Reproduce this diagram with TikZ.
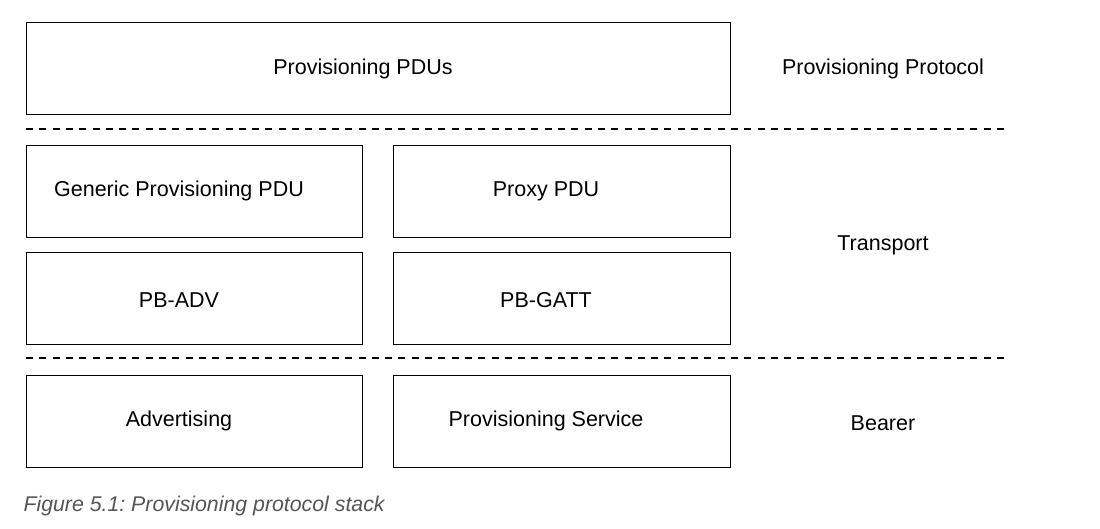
\documentclass[tikz,border=0pt]{standalone}
\usepackage{fontspec}
\setmainfont{Liberation Sans}
\frenchspacing
\begin{document}
\begin{tikzpicture}[x=1pt,y=-1pt,
  layerbox/.style={draw=black,line width=1.2pt,inner sep=0pt,anchor=north west},
  lbl/.style={font=\fontsize{21.5}{25}\selectfont,text=black},
  sep/.style={draw=black,line width=1.3pt,dash pattern=on 7pt off 6.3pt},
  captext/.style={font=\fontsize{21.3}{25}\selectfont\itshape,text=capgray,anchor=west}]
\definecolor{capgray}{HTML}{555555}
\useasboundingbox (0,0) rectangle (1100,528);
% boxes
\node[layerbox,minimum width=704pt,minimum height=92pt] (pdus) at (26,22) {};
\node[layerbox,minimum width=336pt,minimum height=92pt] (gpp) at (26,145) {};
\node[layerbox,minimum width=337pt,minimum height=92pt] (proxy) at (393,145) {};
\node[layerbox,minimum width=336pt,minimum height=92pt] (pbadv) at (26,252) {};
\node[layerbox,minimum width=337pt,minimum height=92pt] (pbgatt) at (393,252) {};
\node[layerbox,minimum width=336pt,minimum height=92pt] (adv) at (26,375) {};
\node[layerbox,minimum width=337pt,minimum height=92pt] (provsvc) at (393,375) {};
% texts
\node[lbl] (t1) at (363,69) {Provisioning PDUs};
\node[lbl] (t2) at (179,191) {Generic Provisioning PDU};
\node[lbl] (t3) at (546,191) {Proxy PDU};
\node[lbl] (t4) at (179,300) {PB-ADV};
\node[lbl] (t5) at (546,300) {PB-GATT};
\node[lbl] (t6) at (179,421) {Advertising};
\node[lbl] (t7) at (546,421) {Provisioning Service};
\node[lbl] (l1) at (883,69) {Provisioning Protocol};
\node[lbl] (l2) at (883,245) {Transport};
\node[lbl] (l3) at (883,423) {Bearer};
% separators
\coordinate (s1a) at (26,129);
\coordinate (s1b) at (1004,129);
\coordinate (s2a) at (26,358);
\coordinate (s2b) at (1004,358);
\draw[sep] (s1a) -- (s1b);
\draw[sep] (s2a) -- (s2b);
% caption
\node[captext] (caption) at (20,506) {Figure 5.1: Provisioning protocol stack};
\end{tikzpicture}
\end{document}
